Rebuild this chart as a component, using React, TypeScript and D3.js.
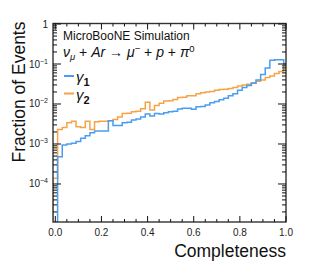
import React, { useEffect, useRef } from 'react';
import * as d3 from 'd3';

// fraction of events per completeness bin (bins of 0.02 centred on 0.00 ... 1.00)
const gamma1 = [
  0, 4.8e-4, 9.5e-4, 1.0e-3, 1.05e-3, 1.15e-3, 1.4e-3, 1.6e-3, 1.9e-3, 2.1e-3,
  2.1e-3, 2.1e-3, 3.8e-3, 2.9e-3, 2.9e-3, 3.4e-3, 3.5e-3, 4.0e-3, 4.2e-3, 4.7e-3,
  5.6e-3, 5.0e-3, 5.8e-3, 5.6e-3, 6.0e-3, 6.4e-3, 6.6e-3, 7.5e-3, 7.8e-3, 7.8e-3,
  7.4e-3, 8.5e-3, 8.6e-3, 9.5e-3, 1.07e-2, 1.15e-2, 1.28e-2, 1.4e-2, 1.6e-2, 1.8e-2,
  2.2e-2, 2.6e-2, 2.9e-2, 3.3e-2, 4.0e-2, 5.5e-2, 8.0e-2, 0.125, 0.128, 0.127,
  0.1,
];
const gamma2 = [
  1.4e-4, 2.3e-3, 2.6e-3, 3.4e-3, 3.7e-3, 2.7e-3, 2.6e-3, 3.7e-3, 2.3e-3, 3.6e-3,
  3.7e-3, 3.7e-3, 3.8e-3, 4.1e-3, 4.7e-3, 5.8e-3, 5.9e-3, 6.4e-3, 6.6e-3, 7.6e-3,
  1.1e-2, 7.1e-3, 9.2e-3, 1.05e-2, 1.18e-2, 1.2e-2, 1.3e-2, 1.45e-2, 1.48e-2, 1.6e-2,
  1.6e-2, 1.8e-2, 1.92e-2, 2.0e-2, 2.05e-2, 2.2e-2, 2.3e-2, 2.35e-2, 2.45e-2, 2.6e-2,
  2.8e-2, 3.0e-2, 3.1e-2, 3.4e-2, 3.7e-2, 4.0e-2, 4.6e-2, 5.0e-2, 5.8e-2, 6.5e-2,
  0.1,
];
const binWidth = 0.02;
const xTicks = [0, 0.2, 0.4, 0.6, 0.8, 1.0];
const yTicks = [1, 1e-1, 1e-2, 1e-3, 1e-4];
const yTickExp = ['', '−1', '−2', '−3', '−4'];

const W = 313;
const H = 272;
const m = { left: 53, right: 27, top: 23.5, bottom: 50 };
const blue = '#4a9df2';
const orange = '#f7a246';
const font = '"Liberation Sans", Arial, Helvetica, sans-serif';

const App: React.FC = () => {
  const svgRef = useRef<SVGSVGElement>(null);

  useEffect(() => {
    if (!svgRef.current) return;
    const svg = d3.select(svgRef.current);
    svg.selectAll('*').remove();

    const x = d3.scaleLinear().domain([-0.01, 1.0]).range([m.left, W - m.right]);
    const y = d3.scaleLog().domain([1.12e-5, 1.03]).range([H - m.bottom, m.top]);
    const [x0, x1] = x.range();
    const [yb, yt] = y.range();

    svg.append('clipPath').attr('id', 'plot-clip')
      .append('rect').attr('x', x0).attr('y', yt).attr('width', x1 - x0).attr('height', yb - yt);

    const stepPath = (vals: number[]) => {
      const yy = (v: number) => (v <= y.domain()[0] ? yb : y(v));
      const pts: [number, number][] = [];
      vals.forEach((v, i) => {
        const lo = x(i * binWidth - binWidth / 2);
        const hi = x(i * binWidth + binWidth / 2);
        if (i === 0) pts.push([lo, yb]);
        pts.push([lo, yy(v)]);
        pts.push([hi, yy(v)]);
      });
      pts.push([pts[pts.length - 1][0], yb]);
      return d3.line()(pts);
    };

    const hist = svg.append('g').attr('clip-path', 'url(#plot-clip)');
    hist.append('path').attr('d', stepPath(gamma2)).attr('fill', 'none')
      .attr('stroke', orange).attr('stroke-width', 1.5);
    hist.append('path').attr('d', stepPath(gamma1)).attr('fill', 'none')
      .attr('stroke', blue).attr('stroke-width', 1.5);

    // frame
    svg.append('rect').attr('x', x0).attr('y', yt).attr('width', x1 - x0).attr('height', yb - yt)
      .attr('fill', 'none').attr('stroke', '#333').attr('stroke-width', 1.4);

    const ticks = svg.append('g').attr('stroke', '#111').attr('stroke-width', 1);
    // x ticks, bottom and top
    d3.range(0, 1.0001, 0.05).forEach((t, i) => {
      const len = i % 4 === 0 ? 6 : 3;
      const px = x(t);
      ticks.append('line').attr('x1', px).attr('x2', px).attr('y1', yb).attr('y2', yb - len);
      ticks.append('line').attr('x1', px).attr('x2', px).attr('y1', yt).attr('y2', yt + len);
    });
    // y ticks, left and right
    for (let e = -5; e <= 0; e++) {
      for (let k = 1; k <= 9; k++) {
        const v = k * Math.pow(10, e);
        if (v < y.domain()[0] || v > y.domain()[1]) continue;
        const len = k === 1 ? 8 : 4;
        const py = y(v);
        ticks.append('line').attr('x1', x0).attr('x2', x0 + len).attr('y1', py).attr('y2', py);
        ticks.append('line').attr('x1', x1).attr('x2', x1 - len).attr('y1', py).attr('y2', py);
      }
    }

    // tick labels
    xTicks.forEach(t => {
      svg.append('text').attr('x', x(t)).attr('y', yb + 13.5).attr('text-anchor', 'middle')
        .attr('font-family', font).attr('font-size', 10).attr('fill', '#222')
        .text(d3.format('.1f')(t));
    });
    yTicks.forEach((t, i) => {
      const txt = svg.append('text').attr('x', x0 - 5).attr('y', y(t) + 3.5).attr('text-anchor', 'end')
        .attr('font-family', font).attr('font-size', 10).attr('fill', '#222');
      if (i === 0) {
        txt.text('1');
      } else {
        txt.append('tspan').text('10');
        txt.append('tspan').attr('font-size', 7).attr('dy', -4).text(yTickExp[i]);
      }
    });

    // axis titles
    svg.append('text').attr('x', x1).attr('y', 257).attr('text-anchor', 'end')
      .attr('font-family', font).attr('font-size', 17.5).attr('fill', '#111').text('Completeness');
    svg.append('text').attr('transform', `translate(25,${yt - 2}) rotate(-90)`).attr('text-anchor', 'end')
      .attr('font-family', font).attr('font-size', 17.5).attr('fill', '#111').text('Fraction of Events');

    // labels inside the frame
    svg.append('text').attr('x', 63).attr('y', 39.5).attr('font-family', font).attr('font-size', 12)
      .attr('fill', '#111').text('MicroBooNE Simulation');

    const f = svg.append('text').attr('x', 63).attr('y', 57).attr('font-family', font)
      .attr('font-size', 14).attr('fill', '#111');
    f.append('tspan').attr('font-style', 'italic').text('ν');
    f.append('tspan').attr('font-style', 'italic').attr('font-size', 9.5).attr('dy', 3).text('μ');
    f.append('tspan').attr('dy', -3).text(' + ');
    f.append('tspan').attr('font-style', 'italic').text('Ar');
    f.append('tspan').text(' → ');
    f.append('tspan').attr('font-style', 'italic').text('μ');
    f.append('tspan').attr('font-size', 9.5).attr('dy', -5).text('−');
    f.append('tspan').attr('dy', 5).text(' + ');
    f.append('tspan').attr('font-style', 'italic').text('p');
    f.append('tspan').text(' + ');
    f.append('tspan').attr('font-style', 'italic').text('π');
    f.append('tspan').attr('font-size', 9.5).attr('dy', -5).text('0');

    const legend = [
      { c: blue, sub: '1', ly: 76 },
      { c: orange, sub: '2', ly: 93.5 },
    ];
    legend.forEach(l => {
      svg.append('line').attr('x1', 64).attr('x2', 74).attr('y1', l.ly).attr('y2', l.ly)
        .attr('stroke', l.c).attr('stroke-width', 2);
      const t = svg.append('text').attr('x', 76).attr('y', l.ly + 6).attr('font-family', font)
        .attr('font-size', 15).attr('fill', '#111');
      t.append('tspan').attr('font-style', 'italic').text('γ');
      t.append('tspan').attr('font-size', 11).attr('font-weight', 'bold').attr('dy', 4).text(l.sub);
    });
  }, []);

  return (
    <svg ref={svgRef} width={W} height={H}
      style={{ position: 'fixed', left: 0, top: 0, background: '#fff' }} />
  );
};

export default App;
